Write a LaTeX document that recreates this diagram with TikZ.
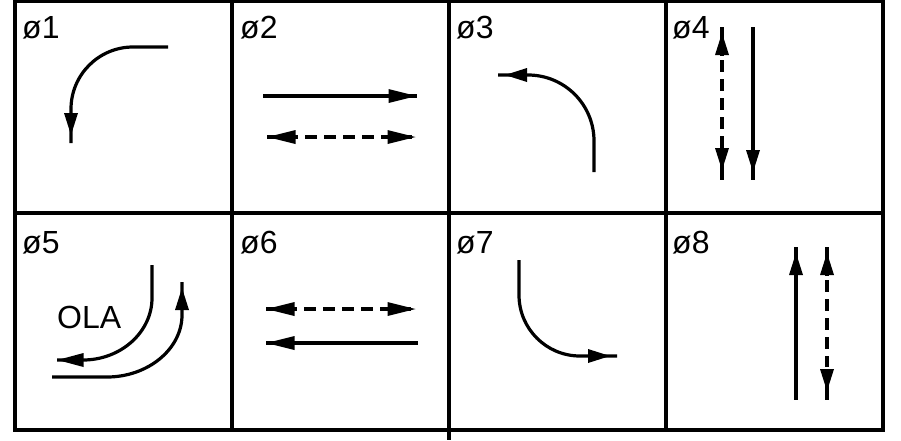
\documentclass[tikz,border=0pt]{standalone}
\usepackage{fontspec}
\setmainfont{Liberation Sans}
\usetikzlibrary{decorations.markings}
\begin{document}
\begin{tikzpicture}[x=1pt,y=-1pt,
  gridline/.style={line width=3.2pt},
  arr/.style={line width=3.2pt,line cap=butt},
  dsh/.style={arr,dash pattern=on 12pt off 7pt},
  endhead/.style 2 args={postaction={decorate,decoration={markings,mark=at position -#1 with {\fill (0,0)--(-#2,7)--(-#2,-7)--cycle;}}}},
  starthead/.style 2 args={postaction={decorate,decoration={markings,mark=at position #1 with {\fill (0,0)--(#2,7)--(#2,-7)--cycle;}}}},
  lbl/.style={anchor=base west,inner sep=0pt,font=\fontsize{32}{32}\selectfont}]
\fill[white] (0,0) rectangle (901,440);
\useasboundingbox (0,0) rectangle (901,440);
% grid
\draw[gridline] (15,1) rectangle (883,430);
\draw[gridline] (232,1) -- (232,430);
\draw[gridline] (449,1) -- (449,440);
\draw[gridline] (666,1) -- (666,430);
\draw[gridline] (15,213) -- (883,213);
% labels
\node[lbl] (l1) at (22,38) {ø1};
\node[lbl] (l2) at (240,38) {ø2};
\node[lbl] (l3) at (456,38) {ø3};
\node[lbl] (l4) at (672,38) {ø4};
\node[lbl] (l5) at (22,253) {ø5};
\node[lbl] (l6) at (240,253) {ø6};
\node[lbl] (l7) at (456,253) {ø7};
\node[lbl] (l8) at (672,253) {ø8};
\node[lbl] (ola) at (57,328) {OLA};
% phase 1
\draw[arr,endhead={8pt}{22}] (168,47) -- (133,47) .. controls (98.8,47) and (71,74.8) .. (71,109) -- (71,143);
% phase 2
\draw[arr,endhead={0.5pt}{28}] (263,96) -- (417,96);
\draw[dsh,starthead={0.5pt}{28},endhead={0.5pt}{28}] (267,137) -- (416,137);
% phase 3
\draw[arr,endhead={7pt}{22}] (594,172) -- (594,141) .. controls (594,104.5) and (564.5,75) .. (528,75) -- (498,75);
% phase 4
\path[starthead={6pt}{22},endhead={10pt}{22}] (722,27) -- (722,180);
\draw[arr] (722,27) -- (722,56);
\draw[dsh] (722,60) -- (722,148);
\draw[arr] (722,150) -- (722,180);
\draw[arr,endhead={8pt}{22}] (753,27) -- (753,180);
% phase 5
\draw[arr,endhead={0.5pt}{26}] (152,265) -- (152,298) .. controls (152,332) and (121,360) .. (83,360) -- (57,360);
\draw[arr,endhead={6pt}{22}] (52,377) -- (107,377) .. controls (148,377) and (182,349) .. (182,315) -- (182,282);
% phase 6
\draw[dsh,starthead={0.5pt}{28},endhead={0.5pt}{28}] (266,309) -- (416,309);
\draw[arr,starthead={0.5pt}{28}] (266,343) -- (418,343);
% phase 7
\draw[arr,endhead={7pt}{22}] (519,260) -- (519,295) .. controls (519,328.7) and (546.3,356) .. (580,356) -- (617,356);
% phase 8
\draw[arr,starthead={6pt}{22}] (796,247) -- (796,400);
\path[starthead={6pt}{22},endhead={9pt}{22}] (827,247) -- (827,400);
\draw[arr] (827,247) -- (827,276);
\draw[dsh] (827,280) -- (827,367);
\draw[arr] (827,369) -- (827,400);
\end{tikzpicture}
\end{document}
